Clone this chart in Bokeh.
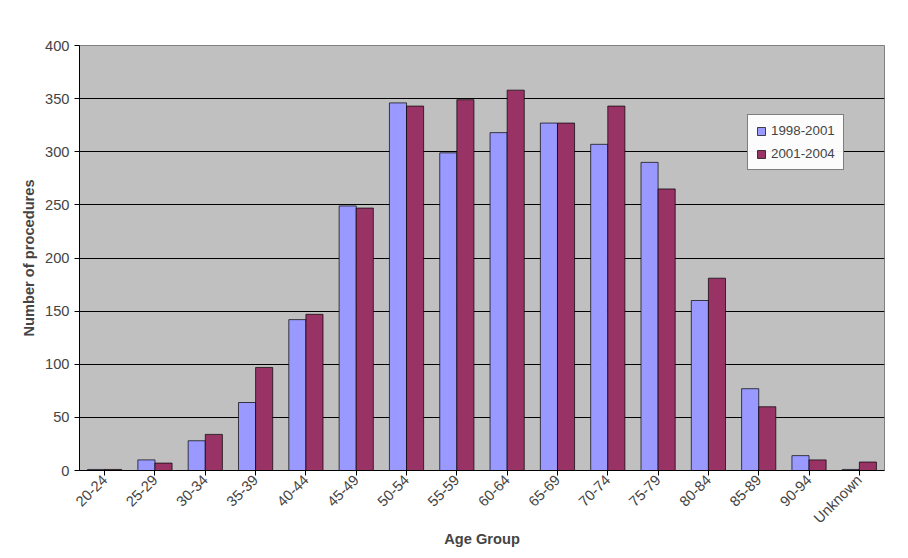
from bokeh.plotting import figure
from bokeh.models import ColumnDataSource, Legend, LegendItem, FactorRange
from bokeh.transform import dodge
from bokeh.embed import file_html
from bokeh.resources import INLINE
import math

groups = ["20-24","25-29","30-34","35-39","40-44","45-49","50-54","55-59","60-64","65-69","70-74","75-79","80-84","85-89","90-94","Unknown"]
s1 = [1,10,28,64,142,249,346,299,318,327,307,290,160,77,14,1]
s2 = [1,7,34,97,147,247,343,349,358,327,343,265,181,60,10,8]

src = ColumnDataSource(dict(g=groups, a=s1, b=s2))
p = figure(x_range=FactorRange(*groups), y_range=(0,400), width=892, height=550,
           output_backend="svg", toolbar_location=None,
           min_border_left=79, min_border_top=45, min_border_right=8, min_border_bottom=10)
p.background_fill_color = "#C0C0C0"
p.outline_line_color = "#808080"
p.border_fill_color = "white"
r1 = p.vbar(x=dodge("g", -0.17, range=p.x_range), top="a", width=0.34, source=src,
            fill_color="#9999FF", line_color="black", line_width=0.7)
r2 = p.vbar(x=dodge("g", 0.17, range=p.x_range), top="b", width=0.34, source=src,
            fill_color="#993366", line_color="black", line_width=0.7)
p.xgrid.grid_line_color = None
p.ygrid.grid_line_color = "black"
p.yaxis.ticker = list(range(0, 401, 50))
p.xaxis.major_label_orientation = math.pi/4
for ax in (p.xaxis[0], p.yaxis[0]):
    ax.major_label_text_font = "Liberation Sans"
    ax.major_label_text_font_size = "11pt"
    ax.axis_label_text_font = "Liberation Sans"
    ax.axis_label_text_font_style = "bold"
    ax.axis_label_text_font_size = "11pt"
    ax.minor_tick_line_color = None
    ax.major_tick_in = 0
    ax.major_tick_out = 5
p.yaxis.axis_label = "Number of procedures"
p.xaxis.axis_label = "Age Group"
p.xaxis.axis_label_standoff = -4
p.xaxis.major_label_standoff = 2
leg = Legend(items=[LegendItem(label="1998-2001", renderers=[r1]),
                    LegendItem(label="2001-2004", renderers=[r2])],
             location=(668, 300), label_text_font="Liberation Sans",
             label_text_font_size="10pt", border_line_color="black",
             background_fill_color="white", glyph_width=10, glyph_height=10,
             padding=8, spacing=8)
p.add_layout(leg, "center")
open("out.html", "w").write(file_html(p, INLINE))
